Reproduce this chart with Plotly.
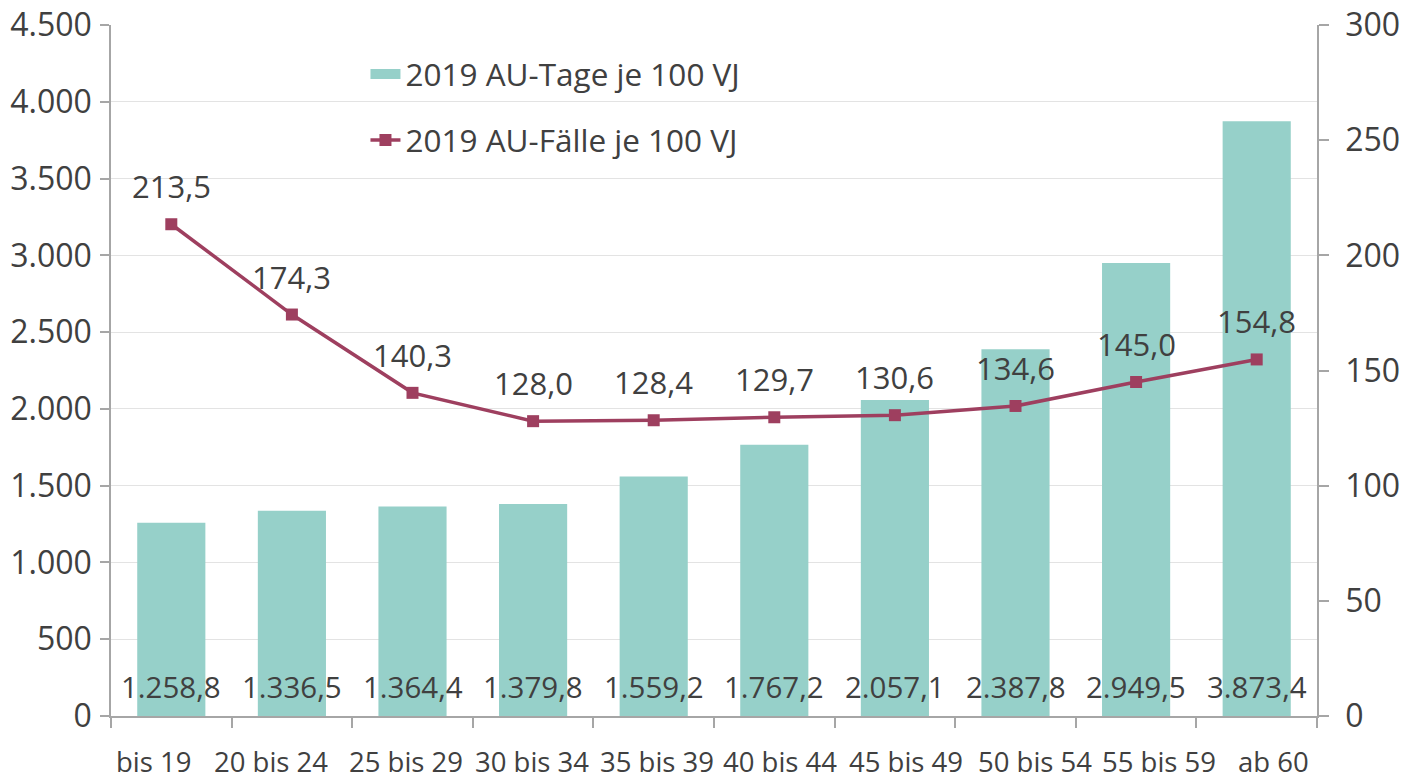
import plotly.graph_objects as go

categories = ["bis 19", "20 bis 24", "25 bis 29", "30 bis 34", "35 bis 39",
              "40 bis 44", "45 bis 49", "50 bis 54", "55 bis 59", "ab 60"]
au_tage = [1258.8, 1336.5, 1364.4, 1379.8, 1559.2, 1767.2, 2057.1, 2387.8, 2949.5, 3873.4]
au_faelle = [213.5, 174.3, 140.3, 128.0, 128.4, 129.7, 130.6, 134.6, 145.0, 154.8]
left_ticks = [0, 500, 1000, 1500, 2000, 2500, 3000, 3500, 4000, 4500]
right_ticks = [0, 50, 100, 150, 200, 250, 300]

# horizontal nudges (px) of category labels, as spread out in the original
LABEL_NUDGE = [-18, -21, -7, -1, 3, 6, 11, 19, 23, 17]

BAR_COLOR = "#96D0C9"
LINE_COLOR = "#9E3F5F"
TEXT_COLOR = "#404040"
AXIS_COLOR = "#A6A6A6"
GRID_COLOR = "#E3E3E3"
FONT = "Open Sans"


def de(v, dec=1):
    s = f"{v:,.{dec}f}"
    return s.replace(",", "X").replace(".", ",").replace("X", ".")


fig = go.Figure()
fig.add_trace(go.Bar(
    x=categories, y=au_tage, name="2019 AU-Tage je 100 VJ",
    marker=dict(color=BAR_COLOR, line=dict(width=0)),
    width=0.565, showlegend=False, yaxis="y",
))
# legend-only entry drawn as a wide teal rectangle
fig.add_trace(go.Scatter(
    x=[None], y=[None], name="2019 AU-Tage je 100 VJ", mode="lines",
    line=dict(color=BAR_COLOR, width=16), legendgroup="a", yaxis="y",
))
fig.add_trace(go.Scatter(
    x=categories, y=au_faelle, name="2019 AU-Fälle je 100 VJ",
    mode="lines+markers", line=dict(color=LINE_COLOR, width=3.5),
    marker=dict(symbol="square", size=12, color=LINE_COLOR),
    legendgroup="b", yaxis="y2",
))

annotations = []
for c, v in zip(categories, au_tage):
    annotations.append(dict(x=c, y=0, xref="x", yref="y", text=de(v),
                            showarrow=False, yanchor="bottom", yshift=7,
                            font=dict(size=29.5, color=TEXT_COLOR, family=FONT)))
for c, v in zip(categories, au_faelle):
    annotations.append(dict(x=c, y=v, xref="x", yref="y2", text=de(v),
                            showarrow=False, yanchor="bottom", yshift=15,
                            font=dict(size=31, color=TEXT_COLOR, family=FONT)))
for c, dx in zip(categories, LABEL_NUDGE):
    annotations.append(dict(x=c, y=0, xref="x", yref="paper", text=c,
                            showarrow=False, yanchor="top", yshift=-29, xshift=dx,
                            height=30, borderpad=0, valign="middle",
                            font=dict(size=27.5, color=TEXT_COLOR, family=FONT)))

fig.update_layout(
    width=1418, height=777,
    margin=dict(l=111, r=101, t=25, b=61),
    paper_bgcolor="white", plot_bgcolor="white",
    separators=",.",
    font=dict(family=FONT, color=TEXT_COLOR, size=31),
    annotations=annotations,
    showlegend=True,
    legend=dict(x=0.211, y=0.968, xanchor="left", yanchor="top",
                bgcolor="rgba(0,0,0,0)", traceorder="grouped", tracegroupgap=22,
                font=dict(size=31.5, color=TEXT_COLOR, family=FONT)),
    shapes=[dict(type="rect", xref="paper", yref="paper",
                 x0=(293 - 111) / 1206, x1=(768 - 111) / 1206,
                 y0=(716 - 165) / 691.5, y1=(716 - 40) / 691.5,
                 fillcolor="white", line=dict(width=0), layer="below")],
    xaxis=dict(type="category", range=[-0.5, len(categories) - 0.5],
               showline=True, linecolor=AXIS_COLOR, linewidth=1.5,
               ticks="outside", tickson="boundaries", ticklen=10, tickcolor=AXIS_COLOR,
               tickwidth=1.5, showticklabels=False, showgrid=False, automargin=False),
    yaxis=dict(range=[0, 4500], tickvals=left_ticks, tickformat=",",
               showline=True, linecolor=AXIS_COLOR, linewidth=1.5,
               ticks="outside", ticklen=9, tickcolor=AXIS_COLOR, tickwidth=1.5,
               showgrid=True, gridcolor=GRID_COLOR, gridwidth=1, zeroline=False,
               automargin=False, ticklabelstandoff=2,
               tickfont=dict(size=32, color=TEXT_COLOR, family=FONT)),
    yaxis2=dict(range=[0, 300], tickvals=right_ticks, overlaying="y", side="right",
                showline=True, linecolor=AXIS_COLOR, linewidth=1.5,
                ticks="outside", ticklen=10, tickcolor=AXIS_COLOR, tickwidth=1.5,
                showgrid=False, zeroline=False, ticklabelstandoff=10, automargin=False,
                tickfont=dict(size=32, color=TEXT_COLOR, family=FONT)),
)

fig.write_html("out.html", config={"displayModeBar": False},
               post_script="document.body.style.margin='0';")
